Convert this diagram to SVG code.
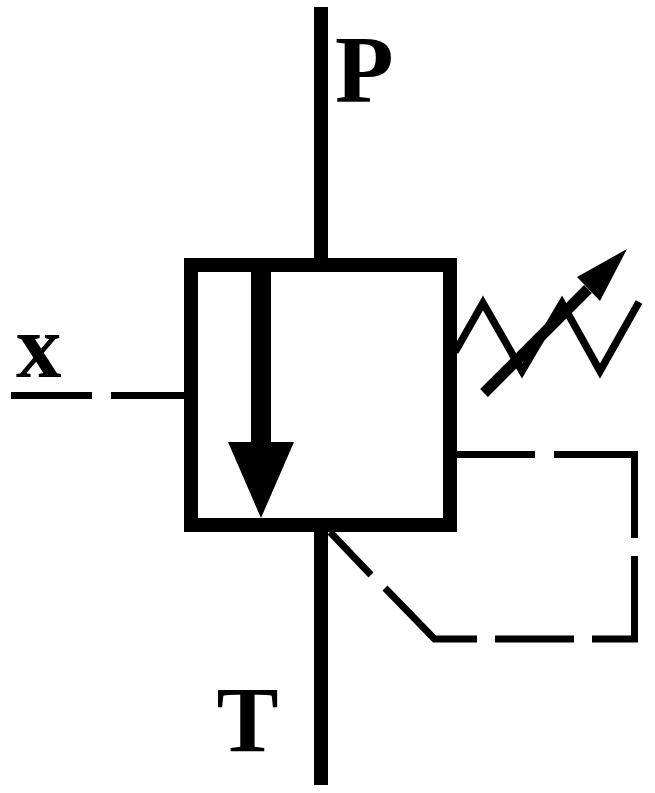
<svg xmlns="http://www.w3.org/2000/svg" width="655" height="793" viewBox="0 0 655 793">
<style>
.port{stroke:#000;stroke-width:14;fill:none}
.pilot{stroke:#000;stroke-width:7;fill:none}
.lbl{font-family:"Liberation Serif","Times New Roman",serif;font-weight:bold;font-size:96px;fill:#000}
</style>
<rect width="655" height="793" fill="#fff"/>
<g id="connectors">
<path class="port" d="M321 7V258"/>
<path class="port" d="M321 532V785"/>
<path class="pilot" d="M11 395.500H92M111 395.500H184"/>
<path class="pilot" d="M457 454.500H535M554 454.500H634.500V538M634.500 556V639H592M574 639H495M477 639H434.500L385 588M371 575L330 532"/>
</g>
<g id="valve">
<rect x="191" y="265" width="259" height="260" fill="#fff" stroke="#000" stroke-width="14"/>
<path d="M251 272H271V442H294L261 518L228 442H251Z" fill="#000"/>
</g>
<g id="spring">
<path d="M455 352L483 303L522 371L562 303L600 371L639 302" fill="none" stroke="#000" stroke-width="7.500"/>
<path d="M484 393L588 289" fill="none" stroke="#000" stroke-width="11"/>
<path d="M627 249L600 301L577 277Z" fill="#000"/>
</g>
<g id="label-p"><text class="lbl" x="335" y="102">P</text></g>
<g id="label-t"><text class="lbl" style="font-size:93px" x="216.500" y="751">T</text></g>
<g id="label-x"><text class="lbl" style="font-size:91px" x="16" y="377">x</text></g>
</svg>
